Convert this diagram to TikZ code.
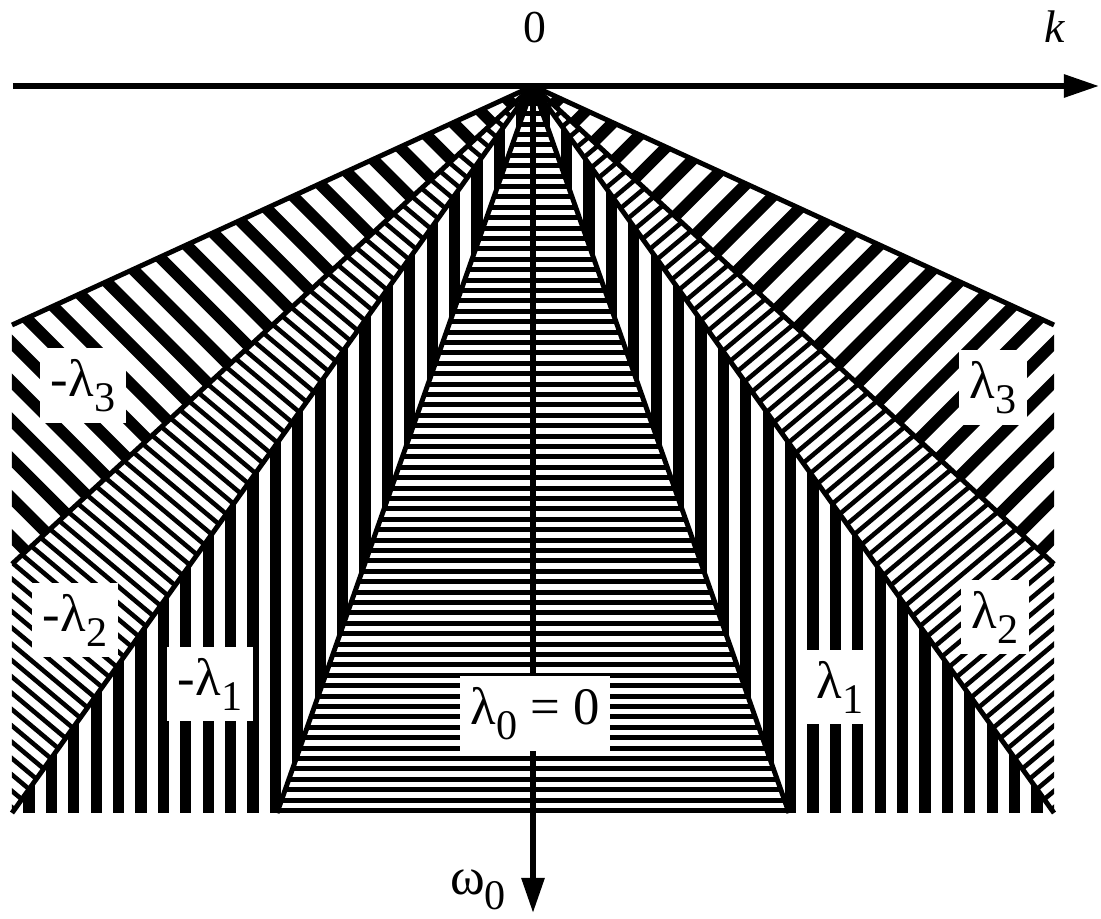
\documentclass[tikz,border=0pt]{standalone}
\usepackage{fontspec}
\setmainfont{Liberation Serif}
\usetikzlibrary{arrows.meta}

\newcommand{\lsub}[1]{\raisebox{-0.3em}{\fontsize{12}{12}\selectfont #1}}

\begin{document}
\begin{tikzpicture}[
  axis/.style={line width=1.6pt, -{Triangle[length=10pt, width=6.3pt]}},
  edge/.style={line width=1.4pt, line join=round},
  hstripe/.style={line width=1.45pt},
  vstripe/.style={line width=3.2pt},
  bstripe/.style={line width=1.3pt},
  ostripe/.style={line width=3.3pt},
  lab/.style={fill=white, inner sep=3pt, anchor=base,
              font=\fontsize{15}{15}\selectfont},
  axlab/.style={anchor=base, font=\fontsize{13}{13}\selectfont},
]
\useasboundingbox (-5.33,0.86) rectangle (5.68,-8.32);

% ---- Wedge corners ---------------------------------------------------------
\coordinate (O)   at (0,0);
\coordinate (L3l) at (-5.21,-2.39); \coordinate (L3r) at (5.21,-2.39);
\coordinate (L2l) at (-5.21,-4.78); \coordinate (L2r) at (5.21,-4.78);
\coordinate (L1l) at (-5.21,-7.27); \coordinate (L1r) at (5.21,-7.27);
\coordinate (L0l) at (-2.56,-7.27); \coordinate (L0r) at (2.56,-7.27);

% ---- Hatching of the wedges ------------------------------------------------
\foreach \sd/\s in {l/1, r/-1} {
  % outer wedge (lambda_3)
  \begin{scope}
    \clip (O) -- (L3\sd) -- (L2\sd) -- cycle;
    \begin{scope}[rotate=-45*\s]
      \foreach \i in {-28,...,28}
        \draw[ostripe] (-9,\i*0.275) -- (9,\i*0.275);
    \end{scope}
  \end{scope}
  % band (lambda_2)
  \begin{scope}
    \clip (O) -- (L2\sd) -- (L1\sd) -- cycle;
    \begin{scope}[rotate=-40*\s]
      \foreach \i in {-72,...,72}
        \draw[bstripe] (-10,\i*0.125) -- (10,\i*0.125);
    \end{scope}
  \end{scope}
  % vertical stripes (lambda_1)
  \begin{scope}
    \clip (O) -- (L1\sd) -- (L0\sd) -- cycle;
    \foreach \n in {0,...,23}
      \draw[vstripe] (-\s*0.112-\s*0.224*\n,0) -- (-\s*0.112-\s*0.224*\n,-7.27);
  \end{scope}
}
% central wedge (lambda_0)
\begin{scope}
  \clip (O) -- (L0l) -- (L0r) -- cycle;
  \foreach \n in {0,...,70}
    \draw[hstripe] (-3,-7.245+0.104*\n) -- (3,-7.245+0.104*\n);
\end{scope}

% ---- Wedge boundaries ------------------------------------------------------
\draw[edge] (L3l) -- (O) -- (L3r);
\draw[edge] (L2l) -- (O) -- (L2r);
\draw[edge] (L1l) -- (O) -- (L1r);
\draw[edge] (L0l) -- (O) -- (L0r);

% ---- Axes ------------------------------------------------------------------
\coordinate (kfrom) at (-5.20,0);
\coordinate (kto)   at (5.66,0);
\coordinate (wto)   at (0,-8.27);
\draw[axis] (kfrom) -- (kto);
\draw[axis] (O) -- (wto);
\node[axlab] (zero) at (0.02,0.43) {0};
\node[axlab] (klab) at (5.22,0.43) {\textit{k}};
\node[lab, fill=none] (wlab) at (-0.55,-8.08) {ω\lsub{0}};

% ---- Eigenvalue labels -----------------------------------------------------
\node[lab] (m3) at (-4.50,-3.10) {-λ\lsub{3}};
\node[lab] (m2) at (-4.58,-5.45) {-λ\lsub{2}};
\node[lab] (m1) at (-3.23,-6.09) {-λ\lsub{1}};
\node[lab] (l0) at (0.02,-6.38)  {λ\lsub{0} = 0};
\node[lab] (p1) at (3.07,-6.12)  {λ\lsub{1}};
\node[lab] (p2) at (4.62,-5.42)  {λ\lsub{2}};
\node[lab] (p3) at (4.60,-3.12)  {λ\lsub{3}};

\end{tikzpicture}
\end{document}
